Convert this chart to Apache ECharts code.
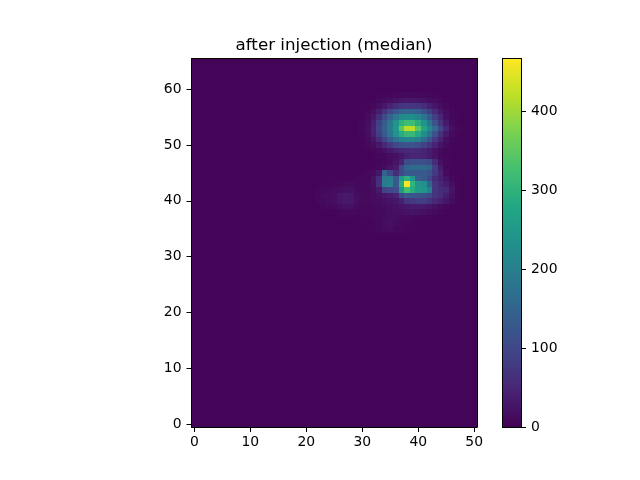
<!DOCTYPE html>
<html><head><meta charset="utf-8">
<style>html,body{margin:0;padding:0;background:#fff}#c{width:640px;height:480px}</style>
<script src="https://cdn.jsdelivr.net/npm/echarts@6/dist/echarts.min.js"></script>
</head><body><div id="c"></div>
<script>
const titleText = 'after injection (median)';
const xCount = 51, yCount = 66;
const colorMax = 467;
const colorTicks = [0,100,200,300,400];
const viridis = ['#440154','#482475','#414487','#355f8d','#2a788e','#21918c','#22a884','#44bf70','#7ad151','#bddf26','#fde725'];
const background = 5;
const firstCol = 20;
// columns 20..50 for the rows with visible signal
const rows = {
59:[5,5,5,5,5,5,5,5,5,5, 5,5,5,6,7,8,10,11,12,12, 11,10,8,7,6,5,5,5,5,5, 5],
58:[5,5,5,5,5,5,5,5,5,5, 5,6,7,9,13,18,24,28,30,30, 28,24,18,13,9,7,6,5,5,5, 5],
57:[5,5,5,5,5,5,5,5,5,5, 6,7,11,18,30,44,60,70,74,74, 70,58,42,28,18,10,7,5,5,5, 5],
56:[5,5,5,5,5,5,5,5,5,5, 6,10,20,38,66,98,125,142,150,150, 140,115,84,55,32,15,8,6,5,5, 5],
55:[5,5,5,5,5,5,5,5,5,5, 7,14,30,62,105,150,190,218,228,228, 212,175,132,88,48,22,10,6,5,5, 5],
54:[5,5,5,5,5,5,5,5,5,5, 8,18,42,88,135,185,240,298,320,320, 290,235,182,122,68,32,14,7,5,5, 5],
53:[5,5,5,5,5,5,5,5,5,5, 9,20,46,95,140,190,250,345,418,418, 345,270,215,165,98,48,20,9,6,5, 5],
52:[5,5,5,5,5,5,5,5,5,5, 8,18,42,88,132,182,235,290,310,310, 282,228,176,118,66,32,14,7,5,5, 5],
51:[5,5,5,5,5,5,5,5,5,5, 7,13,28,58,94,138,175,202,212,212, 196,162,122,80,44,20,9,6,5,5, 5],
50:[5,5,5,5,5,5,5,5,5,5, 6,9,16,30,52,78,100,114,118,118, 110,92,70,46,26,13,7,5,5,5, 5],
49:[5,5,5,5,5,5,5,5,5,5, 5,7,9,14,22,32,42,50,54,56, 54,47,36,24,14,8,6,5,5,5, 5],
48:[5,5,5,5,5,5,5,5,5,5, 5,5,7,9,11,15,21,30,42,48, 50,46,36,24,12,8,6,5,5,5, 5],
47:[5,5,5,5,5,5,5,5,5,5, 5,5,6,8,10,13,24,46,105,115, 115,112,105,60,21,9,6,5,5,5, 5],
46:[5,5,5,5,5,5,5,5,5,5, 5,6,7,9,16,26,36,100,150,160, 160,158,150,85,34,11,6,5,5,5, 5],
45:[5,5,5,5,5,5,6,6,6,7, 7,9,13,29,150,100,60,100,130,130, 130,130,120,80,43,14,7,5,5,5, 5],
44:[5,5,5,6,6,7,7,7,7,8, 9,11,24,58,190,195,130,250,295,240, 140,130,100,60,41,23,9,6,5,5, 5],
43:[5,5,5,6,6,8,10,13,13,11, 9,12,21,63,195,205,130,290,467,305, 240,230,150,72,52,36,17,7,5,5, 5],
42:[5,5,8,10,12,14,18,22,22,14, 10,11,17,34,90,100,110,250,325,290, 250,240,200,72,58,54,24,7,5,5, 5],
41:[5,5,10,13,15,18,28,32,30,18, 12,11,13,19,29,34,46,100,130,122, 120,112,100,70,61,38,21,8,5,5, 5],
40:[5,5,8,12,15,18,26,32,30,18, 12,12,13,15,19,24,29,41,70,80, 85,85,70,51,41,28,14,7,5,5, 5],
39:[5,5,5,8,10,12,18,22,22,14, 10,10,12,14,16,19,23,27,31,33, 35,34,29,21,14,10,7,5,5,5, 5],
38:[5,5,5,5,5,6,8,10,10,8, 8,9,10,12,14,17,19,21,23,25, 23,19,15,12,8,7,5,5,5,5, 5],
37:[5,5,5,5,5,5,6,7,7,7, 7,8,9,11,14,17,17,14,12,11, 10,9,8,7,6,5,5,5,5,5, 5],
36:[5,5,5,5,5,5,5,5,5,6, 6,7,8,11,17,19,15,11,9,8, 7,7,6,6,5,5,5,5,5,5, 5],
35:[5,5,5,5,5,5,5,5,5,5, 5,6,7,10,13,15,11,9,7,6, 6,6,5,5,5,5,5,5,5,5, 5],
34:[5,5,5,5,5,5,5,5,5,5, 5,5,6,6,7,8,7,6,6,6, 5,5,5,5,5,5,5,5,5,5, 5]
};
const heatData = [];
for (let y = 0; y < yCount; y++) {
  for (let x = 0; x < xCount; x++) {
    const r = rows[y];
    const v = (r && x >= firstCol) ? r[x - firstCol] : background;
    heatData.push([x, y, v]);
  }
}
const xCats = Array.from({length:xCount},(_,i)=>String(i));
const yCats = Array.from({length:yCount},(_,i)=>String(i));
const font = 'DejaVu Sans';
const line = {show:true,onZero:false,lineStyle:{color:'#000',width:1}};
const tick = {show:true,length:5,interval:9,alignWithLabel:true,lineStyle:{color:'#000',width:1}};
const xLabel = {show:true,interval:9,color:'#000',fontSize:13.9,fontFamily:font,margin:8};
const yLabel = {show:true,interval:9,color:'#000',fontSize:13.9,fontFamily:font,margin:10};
const off = {show:false};
function renderCell(params, api) {
  const i = api.value(0), j = api.value(1);
  const origin = api.coord([0, 0]);
  const s = api.size([1, 1]);
  const left = origin[0] - s[0] / 2, bottom = origin[1] + s[1] / 2;
  const x0 = Math.round(left + i * s[0]), x1 = Math.round(left + (i + 1) * s[0]);
  const y0 = Math.round(bottom - (j + 1) * s[1]), y1 = Math.round(bottom - j * s[1]);
  return {type:'rect',shape:{x:x0,y:y0,width:x1-x0,height:y1-y0},style:{fill:api.visual('color')}};
}
const chart = echarts.init(document.getElementById('c'),null,{renderer:'canvas'});
chart.setOption({
  animation:false,
  backgroundColor:'#fff',
  title:{text:titleText,left:329,top:32,textAlign:'center',textStyle:{fontFamily:font,fontSize:16.7,fontWeight:'normal',color:'#000'}},
  visualMap:{show:false,min:0,max:colorMax,seriesIndex:0,dimension:2,inRange:{color:viridis}},
  grid:[
    {left:191.5,top:58.5,width:285.5,height:368.5},
    {left:502.5,top:58.5,width:18.5,height:368.5}
  ],
  xAxis:[
    {type:'category',gridIndex:0,data:xCats,position:'bottom',axisLine:line,axisTick:tick,axisLabel:xLabel,splitLine:off,z:5},
    {type:'category',gridIndex:0,data:xCats,position:'top',axisLine:line,axisTick:off,axisLabel:off,splitLine:off,z:5},
    {type:'category',gridIndex:1,data:[''],position:'bottom',axisLine:line,axisTick:off,axisLabel:off,z:5},
    {type:'category',gridIndex:1,data:[''],position:'top',axisLine:line,axisTick:off,axisLabel:off,z:5}
  ],
  yAxis:[
    {type:'category',gridIndex:0,data:yCats,position:'left',axisLine:line,axisTick:tick,axisLabel:yLabel,splitLine:off,z:5},
    {type:'category',gridIndex:0,data:yCats,position:'right',axisLine:line,axisTick:off,axisLabel:off,splitLine:off,z:5},
    {type:'value',gridIndex:1,min:0,max:colorMax,position:'right',axisLine:line,
      axisTick:{show:true,length:5,customValues:colorTicks,lineStyle:{color:'#000',width:1}},
      axisLabel:{show:true,customValues:colorTicks,color:'#000',fontSize:13.9,fontFamily:font,margin:10},splitLine:off,z:5},
    {type:'value',gridIndex:1,min:0,max:colorMax,position:'left',axisLine:line,axisTick:off,axisLabel:off,splitLine:off,z:5}
  ],
  series:[
    {type:'custom',xAxisIndex:0,yAxisIndex:0,data:heatData,renderItem:renderCell,encode:{x:0,y:1},silent:true,clip:true,progressive:0},
    {type:'bar',xAxisIndex:2,yAxisIndex:2,data:[colorMax],barWidth:'100%',silent:true,
      itemStyle:{color:new echarts.graphic.LinearGradient(0,1,0,0,viridis.map((c,i)=>({offset:i/(viridis.length-1),color:c})))}}
  ]
});
</script></body></html>
